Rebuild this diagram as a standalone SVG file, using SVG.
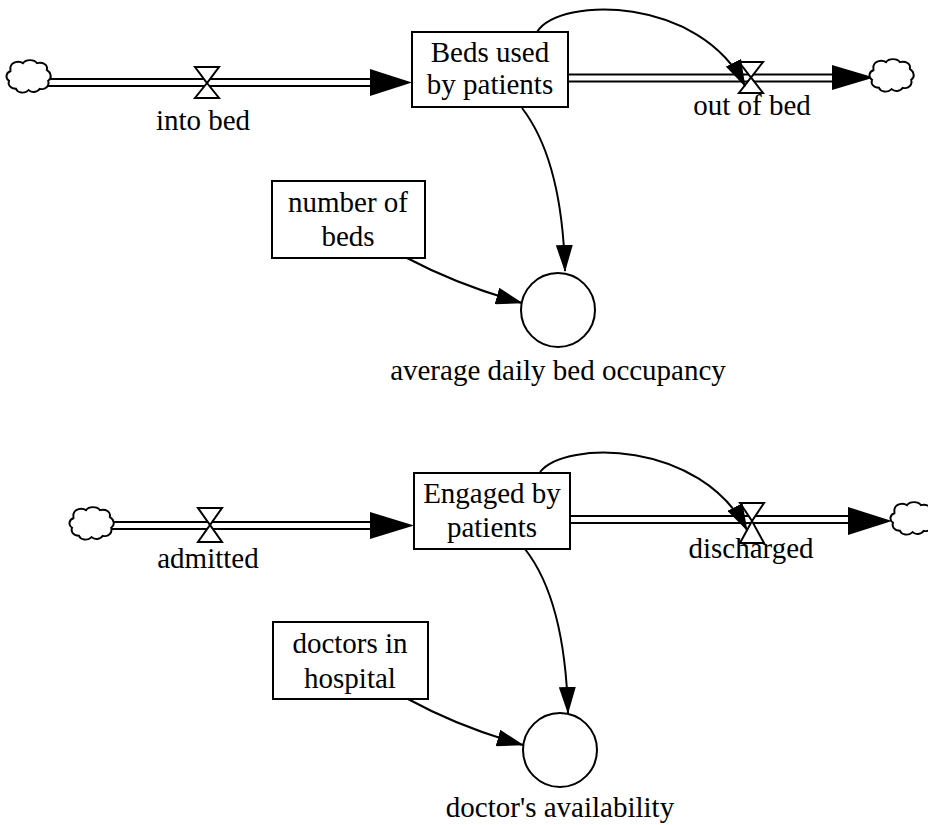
<svg xmlns="http://www.w3.org/2000/svg" width="928" height="825" viewBox="0 0 928 825">
  <style>
    .pipe-outer { stroke: #000; stroke-width: 9; fill: none; }
    .pipe-inner { stroke: #fff; stroke-width: 5; fill: none; }
    .valve { fill: #fff; stroke: #000; stroke-width: 2; stroke-linejoin: miter; }
    .flowhead { fill: #000; stroke: none; }
    .cloud { fill: #fff; stroke: #000; stroke-width: 1.4; }
    .box { fill: #fff; stroke: #000; stroke-width: 2; }
    .aux { fill: #fff; stroke: #000; stroke-width: 2; }
    .link { fill: none; stroke: #000; stroke-width: 2; marker-end: url(#linkhead); }
  </style>
  <defs>
    <marker id="linkhead" viewBox="0 0 27 17" refX="26" refY="8.5" markerWidth="27" markerHeight="17" markerUnits="userSpaceOnUse" orient="auto">
      <path d="M0,0 L27,8.5 L0,17 Z" fill="#000"/>
    </marker>
    <path id="cloudShape" class="cloud" d="M-14,-8 c 1,-4 6,-5 9,-3 c 2,-3 8,-3 10,0 c 4,-1 8,1 7,5 c 3,2 4,6 1,8 c 1,4 -2,7 -6,6 c -2,3 -6,3 -8,1 c -3,3 -8,2 -9,-1 c -4,0 -6,-3 -5,-6 c -3,-2 -2,-6 1,-7 z"/>
  </defs>

  <g font-family="'Liberation Serif', 'Times New Roman', 'DejaVu Serif', serif" font-size="29" text-anchor="middle" fill="#000">

  <!-- upper model: bed occupancy -->
  <g id="flow-into-bed">
    <line class="pipe-outer" x1="48" y1="82.5" x2="374" y2="82.5"/>
    <line class="pipe-inner" x1="46" y1="82.5" x2="376" y2="82.5"/>
    <polygon class="flowhead" points="370,69 412,82.5 370,96"/>
    <path class="valve" d="M195,67 L219,67 L207,83 Z M195,98 L219,98 L207,83 Z"/>
    <text x="203" y="130">into bed</text>
  </g>
  <g id="cloud-source-1">
    <use href="#cloudShape" transform="translate(30,78) scale(1.4,1.35)"/>
  </g>
  <g id="flow-out-of-bed">
    <line class="pipe-outer" x1="568" y1="78" x2="836" y2="78"/>
    <line class="pipe-inner" x1="569" y1="78" x2="838" y2="78"/>
    <polygon class="flowhead" points="832,65 874,77.5 832,90"/>
    <path class="valve" d="M739,62 L763,62 L751,77.5 Z M739,93 L763,93 L751,77.5 Z"/>
    <text x="752" y="115">out of bed</text>
  </g>
  <g id="cloud-sink-1">
    <use href="#cloudShape" transform="translate(893,77) scale(1.4,1.35)"/>
  </g>
  <g id="stock-beds-used">
    <rect class="box" x="412" y="32" width="156" height="75"/>
    <text x="490" y="62">Beds used</text>
    <text x="490" y="94">by patients</text>
  </g>
  <g id="aux-number-of-beds">
    <rect class="box" x="272" y="181" width="153" height="77"/>
    <text x="348" y="212">number of</text>
    <text x="348" y="246">beds</text>
  </g>
  <g id="aux-average-occupancy">
    <circle class="aux" cx="558" cy="310" r="37"/>
    <text x="558" y="380">average daily bed occupancy</text>
  </g>

  <!-- lower model: doctor availability -->
  <g id="flow-admitted">
    <line class="pipe-outer" x1="110" y1="525.5" x2="374" y2="525.5"/>
    <line class="pipe-inner" x1="108" y1="525.5" x2="376" y2="525.5"/>
    <polygon class="flowhead" points="370,512 414,525.5 370,539"/>
    <path class="valve" d="M198,508 L222,508 L210,525 Z M198,542 L222,542 L210,525 Z"/>
    <text x="208" y="568">admitted</text>
  </g>
  <g id="cloud-source-2">
    <use href="#cloudShape" transform="translate(93,525) scale(1.4,1.35)"/>
  </g>
  <g id="flow-discharged">
    <line class="pipe-outer" x1="570" y1="519.5" x2="852" y2="519.5"/>
    <line class="pipe-inner" x1="571" y1="519.5" x2="854" y2="519.5"/>
    <polygon class="flowhead" points="848,507 892,521 848,535"/>
    <path class="valve" d="M740,503 L764,503 L752,521 Z M740,543 L764,543 L752,521 Z"/>
    <text x="751" y="558">discharged</text>
  </g>
  <g id="cloud-sink-2">
    <use href="#cloudShape" transform="translate(914,520) scale(1.4,1.35)"/>
  </g>
  <g id="stock-engaged">
    <rect class="box" x="414" y="473" width="156" height="76"/>
    <text x="492" y="503">Engaged by</text>
    <text x="492" y="537">patients</text>
  </g>
  <g id="aux-doctors-in-hospital">
    <rect class="box" x="273" y="622" width="155" height="77"/>
    <text x="350" y="653">doctors in</text>
    <text x="350" y="688">hospital</text>
  </g>
  <g id="aux-doctor-availability">
    <circle class="aux" cx="560" cy="750" r="37"/>
    <text x="560" y="817">doctor's availability</text>
  </g>

  <!-- information links -->
  <g id="connectors">
    <path class="link" d="M537,32 C560,-4 700,-4 745,86"/>
    <path class="link" d="M522,108 Q562,160 565,271"/>
    <path class="link" d="M407,258 Q458,285 522,303"/>
    <path class="link" d="M540,472 C565,440 700,440 747,530"/>
    <path class="link" d="M525,549 Q565,600 568,713"/>
    <path class="link" d="M408,699 Q459,727 523,745"/>
  </g>

  </g>
</svg>
